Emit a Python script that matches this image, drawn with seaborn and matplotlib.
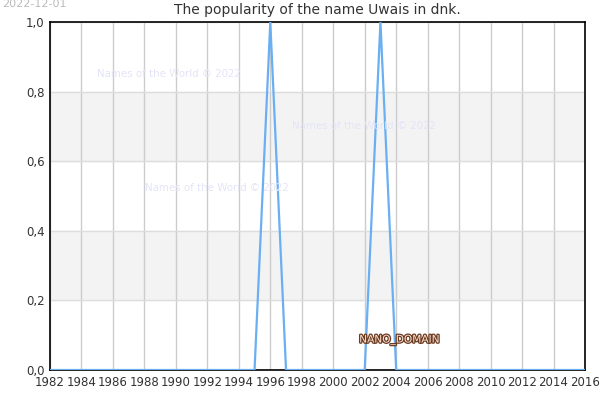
import numpy as np
import matplotlib
matplotlib.use('Agg')
import matplotlib.pyplot as plt
import matplotlib.patheffects as pe
import seaborn as sns
import pandas as pd

# Data
years = list(range(1982, 2017))
popularity = [0, 0, 0, 0, 0, 0, 0, 0, 0, 0, 0, 0, 0, 0,
              1, 0, 0, 0, 0, 0, 0, 1, 0, 0, 0, 0, 0, 0,
              0, 0, 0, 0, 0, 0, 0]
x_ticks = list(range(1982, 2017, 2))
y_ticks = [0.0, 0.2, 0.4, 0.6, 0.8, 1.0]
y_tick_labels = ['0,0', '0,2', '0,4', '0,6', '0,8', '1,0']
bands = [(0.2, 0.4), (0.6, 0.8)]

df = pd.DataFrame({'year': years, 'value': popularity})

sns.set_style('white')
plt.rcParams['font.family'] = ['DejaVu Sans']

fig = plt.figure(figsize=(6, 4), dpi=100)
ax = fig.add_axes([50 / 600, 30 / 400, 535 / 600, 348 / 400])

for lo, hi in bands:
    ax.axhspan(lo, hi, color='#f3f3f3', zorder=0)

sns.lineplot(data=df, x='year', y='value', ax=ax, color='#6aaff2', linewidth=1.6, zorder=3)

ax.set_xlim(1982, 2016)
ax.set_ylim(0, 1)
ax.set_xticks(x_ticks)
ax.set_yticks(y_ticks)
ax.set_yticklabels(y_tick_labels)
ax.grid(axis='x', color='#cccccc', linewidth=1)
ax.grid(axis='y', color='#dddddd', linewidth=1)
ax.set_axisbelow(True)
ax.tick_params(axis='both', labelsize=8.5, colors='#333333', length=0, pad=4)
ax.set_xlabel('')
ax.set_ylabel('')
for s in ax.spines.values():
    s.set_color('black')
    s.set_linewidth(1.2)

ax.set_title('The popularity of the name Uwais in dnk.', fontsize=10, color='#333333', pad=6)

wm = dict(fontsize=7.4, color='#e4e4f8', transform=fig.transFigure, zorder=1)
fig.text(97 / 600, 1 - 74 / 400, 'Names of the World © 2022', va='center', **wm)
fig.text(292 / 600, 1 - 126 / 400, 'Names of the World © 2022', va='center', **wm)
fig.text(145 / 600, 1 - 188 / 400, 'Names of the World © 2022', va='center', **wm)

fig.text(399 / 600, 1 - 340 / 400, 'NANO_DOMAIN', ha='center', va='center', fontsize=7.6,
         color='#fbe3d0', path_effects=[pe.withStroke(linewidth=1.8, foreground='#6b3a22')])
fig.text(2 / 600, 1 - 4 / 400, '2022-12-01', ha='left', va='center', fontsize=8, color='#bbbbbb')

fig.savefig('out.png', dpi=100)
